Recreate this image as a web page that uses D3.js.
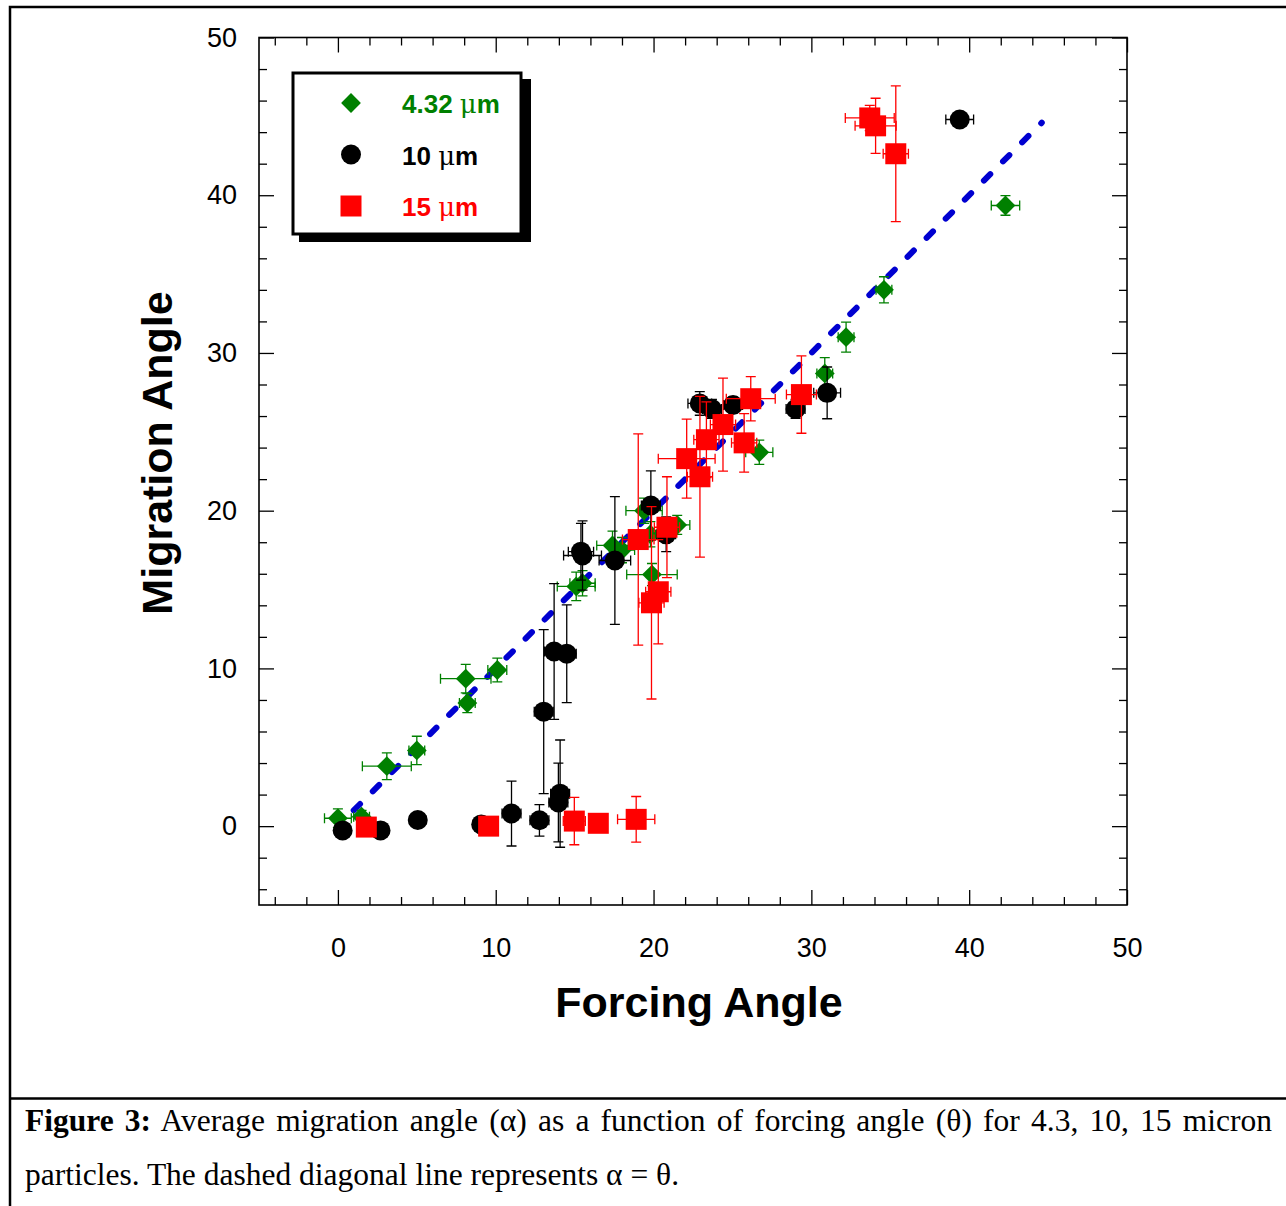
<!DOCTYPE html>
<html lang="en">
<head>
    <meta charset="UTF-8">
    <title>Migration angle vs forcing angle</title>
    <script src="https://d3js.org/d3.v7.min.js"></script>
    <style>
        body { margin: 0; background: #fff; }
        svg { display: block; }
        .tick text { font-family: Arial, "Liberation Sans", sans-serif; font-size: 27px; fill: #000; }
        .tick line { stroke: #000; stroke-width: 1.3px; }
    </style>
</head>
<body>
    <svg width="1286" height="1206"></svg>
    <script>
        // [forcing angle, migration angle, x error, y error]
        const small = [
            [0.0, 0.5, 0.85, 0.6], [1.5, 0.6, 0.5, 0.4], [3.1, 3.8, 1.55, 0.85], [5.0, 4.8, 0.5, 0.9],
            [8.1, 9.35, 1.6, 0.9], [8.2, 7.8, 0.5, 0.6], [10.1, 9.9, 0.6, 0.75], [15.1, 15.2, 1.2, 0.9],
            [15.5, 15.4, 0.8, 0.8], [17.4, 17.8, 1.0, 0.9], [18.0, 17.5, 0.8, 0.8], [19.4, 20.0, 1.15, 0.8],
            [19.8, 18.5, 0.8, 0.8], [21.5, 19.1, 0.8, 0.6], [19.9, 15.95, 1.6, 0.7], [26.7, 23.7, 0.86, 0.77],
            [30.85, 28.7, 0.5, 1.0], [32.2, 31.0, 0.5, 0.95], [34.6, 34.0, 0.5, 0.83], [42.3, 39.35, 0.9, 0.62]
        ];
        const medium = [
            [0.3, -0.27, 0.5, 0.3], [2.7, -0.27, 0.5, 0.3], [5.06, 0.39, 0.5, 0.3], [9.08, 0.11, 0.5, 0.3],
            [11.0, 0.8, 0.6, 2.06], [12.77, 0.37, 0.6, 1.0], [13.97, 1.5, 0.6, 2.5], [14.08, 2.06, 0.6, 3.4],
            [13.04, 7.26, 0.6, 5.2], [13.7, 11.07, 0.6, 4.3], [14.5, 10.93, 0.6, 3.1], [15.5, 17.16, 1.2, 2.2],
            [15.4, 17.4, 0.8, 1.8], [17.55, 16.84, 1.0, 4.05], [19.83, 20.33, 0.6, 2.2], [20.8, 18.5, 0.6, 1.1],
            [22.93, 26.8, 0.75, 0.75], [23.7, 26.45, 0.6, 0.6], [25.04, 26.7, 0.6, 0.5], [29.0, 26.45, 0.6, 0.6],
            [31.0, 27.47, 0.85, 1.64], [39.4, 44.8, 0.88, 0.3]
        ];
        const large = [
            [1.8, -0.06, 0.3, 0.3], [9.55, 0.0, 0.3, 0.3], [14.98, 0.32, 0.7, 1.5], [16.5, 0.18, 0.3, 0.3],
            [18.9, 0.43, 1.18, 1.45], [19.03, 18.17, 1.0, 6.7], [19.87, 14.16, 0.8, 6.1], [20.3, 14.86, 0.8, 3.3],
            [20.85, 18.95, 0.8, 3.2], [22.1, 23.3, 1.8, 2.5], [22.94, 22.15, 0.8, 5.1], [23.35, 24.5, 0.8, 2.4],
            [24.4, 25.46, 0.8, 2.95], [25.74, 24.3, 0.8, 1.85], [26.16, 27.1, 1.55, 1.4], [29.37, 27.36, 0.95, 2.45],
            [33.7, 44.9, 1.55, 0.8], [34.07, 44.4, 1.3, 1.75], [35.35, 42.63, 0.8, 4.3]
        ];
        const diagonal = [1, 44.6];   // alpha = theta, drawn between these angles
        const majorTicks = [0, 10, 20, 30, 40, 50];
        const minorTicks = d3.range(-4, 50, 2).filter(v => v % 10 !== 0);
        const seriesNames = ["4.32", "10", "15"];

        const svg = d3.select("svg");
        const x = d3.scaleLinear().domain([-5, 50]).range([259, 1127]);
        const y = d3.scaleLinear().domain([-5, 50]).range([905, 37.5]);

        // page frame lines
        svg.append("path").attr("d", "M10,1206V7H1286M10,1098.5H1286")
            .attr("fill", "none").attr("stroke", "#000").attr("stroke-width", 2.5);

        // axes: ticks inward on all four sides
        function addAxis(axisFn, pos, ticks, size, labels, pad) {
            const g = svg.append("g").attr("transform", pos)
                .call(axisFn.tickValues(ticks).tickSize(size).tickPadding(pad || 3)
                    .tickFormat(labels ? d3.format("d") : ""));
            g.select(".domain").remove();
            return g;
        }
        addAxis(d3.axisBottom(x), "translate(0,905)", majorTicks, -15, true, 33);
        addAxis(d3.axisBottom(x), "translate(0,905)", minorTicks, -8, false);
        addAxis(d3.axisTop(x), "translate(0,37.5)", majorTicks, -15, false);
        addAxis(d3.axisTop(x), "translate(0,37.5)", minorTicks, -8, false);
        addAxis(d3.axisLeft(y), "translate(259,0)", majorTicks, -15, true, 22);
        addAxis(d3.axisLeft(y), "translate(259,0)", minorTicks, -8, false);
        addAxis(d3.axisRight(y), "translate(1127,0)", majorTicks, -15, false);
        addAxis(d3.axisRight(y), "translate(1127,0)", minorTicks, -8, false);

        svg.append("rect").attr("x", 259).attr("y", 37.5)
            .attr("width", 1127 - 259).attr("height", 905 - 37.5)
            .attr("fill", "none").attr("stroke", "#000").attr("stroke-width", 1.6);

        // dashed diagonal
        svg.append("line")
            .attr("x1", x(diagonal[0])).attr("y1", y(diagonal[0]))
            .attr("x2", x(diagonal[1])).attr("y2", y(diagonal[1]))
            .attr("stroke", "#0000d0").attr("stroke-width", 6)
            .attr("stroke-linecap", "round").attr("stroke-dasharray", "9,18");

        function errorBars(data, color) {
            const g = svg.append("g").attr("stroke", color).attr("stroke-width", 1.3).attr("fill", "none");
            g.selectAll("path").data(data).enter().append("path")
                .attr("d", d => {
                    const cx = x(d[0]), cy = y(d[1]);
                    const x0 = x(d[0] - d[2]), x1 = x(d[0] + d[2]);
                    const y0 = y(d[1] - d[3]), y1 = y(d[1] + d[3]);
                    return `M${x0},${cy}H${x1}M${x0},${cy - 5}V${cy + 5}M${x1},${cy - 5}V${cy + 5}` +
                        `M${cx},${y0}V${y1}M${cx - 5},${y0}H${cx + 5}M${cx - 5},${y1}H${cx + 5}`;
                });
        }

        const diamond = d3.symbol().type(d3.symbolSquare).size(14 * 14);
        const circle = d3.symbol().type(d3.symbolCircle).size(Math.PI * 10 * 10);
        const square = d3.symbol().type(d3.symbolSquare).size(21 * 21);

        function markers(data, color, sym, rot) {
            svg.append("g").selectAll("path").data(data).enter().append("path")
                .attr("d", sym)
                .attr("transform", d => `translate(${x(d[0])},${y(d[1])}) rotate(${rot})`)
                .attr("fill", color);
        }

        errorBars(small, "#008000");
        markers(small, "#008000", diamond, 45);
        errorBars(medium, "#000");
        markers(medium, "#000", circle, 0);
        errorBars(large, "#ff0000");
        markers(large, "#ff0000", square, 0);

        // legend
        const leg = svg.append("g");
        leg.append("rect").attr("x", 299).attr("y", 79).attr("width", 232).attr("height", 163).attr("fill", "#000");
        leg.append("rect").attr("x", 293).attr("y", 73).attr("width", 228).attr("height", 161)
            .attr("fill", "#fff").attr("stroke", "#000").attr("stroke-width", 3);
        const legColors = ["#008000", "#000", "#ff0000"];
        const legSyms = [diamond, circle, square];
        const legRot = [45, 0, 0];
        seriesNames.forEach((name, i) => {
            const cy = 103 + i * 51.5;
            leg.append("path").attr("d", legSyms[i])
                .attr("transform", `translate(351,${cy}) rotate(${legRot[i]})`)
                .attr("fill", legColors[i]);
            const t = leg.append("text").attr("x", 402).attr("y", cy + 10)
                .attr("fill", legColors[i])
                .style("font-family", "Arial, 'Liberation Sans', sans-serif")
                .style("font-size", "26px").style("font-weight", "bold");
            t.append("tspan").text(name + "  ");
            t.append("tspan").style("font-weight", "normal").style("font-family", "'DejaVu Serif', serif").text("\u03bc");
            t.append("tspan").text("m");
        });

        // axis titles
        svg.append("text").attr("x", 699).attr("y", 1017).attr("text-anchor", "middle")
            .style("font-family", "Arial, 'Liberation Sans', sans-serif")
            .style("font-size", "43px").style("font-weight", "bold").text("Forcing Angle");
        svg.append("text").attr("transform", "translate(172,453) rotate(-90)").attr("text-anchor", "middle")
            .style("font-family", "Arial, 'Liberation Sans', sans-serif")
            .style("font-size", "43px").style("font-weight", "bold").text("Migration Angle");

        // caption
        const capFont = "'Liberation Serif', 'Times New Roman', serif";
        const line1 = svg.append("text").attr("x", 25).attr("y", 1131)
            .style("font-family", capFont).style("font-size", "31.5px");
        line1.append("tspan").style("font-weight", "bold").text("Figure 3:");
        line1.append("tspan").text(" Average migration angle (\u03b1) as a function of forcing angle (\u03b8) for 4.3, 10, 15 micron");
        const natural = line1.node().getComputedTextLength();
        const spaces = line1.text().split(" ").length - 1;
        line1.style("word-spacing", ((1272 - 25 - natural) / spaces) + "px");
        svg.append("text").attr("x", 25).attr("y", 1185)
            .style("font-family", capFont).style("font-size", "31.5px")
            .text("particles. The dashed diagonal line represents \u03b1 = \u03b8.");
    </script>
</body>
</html>
